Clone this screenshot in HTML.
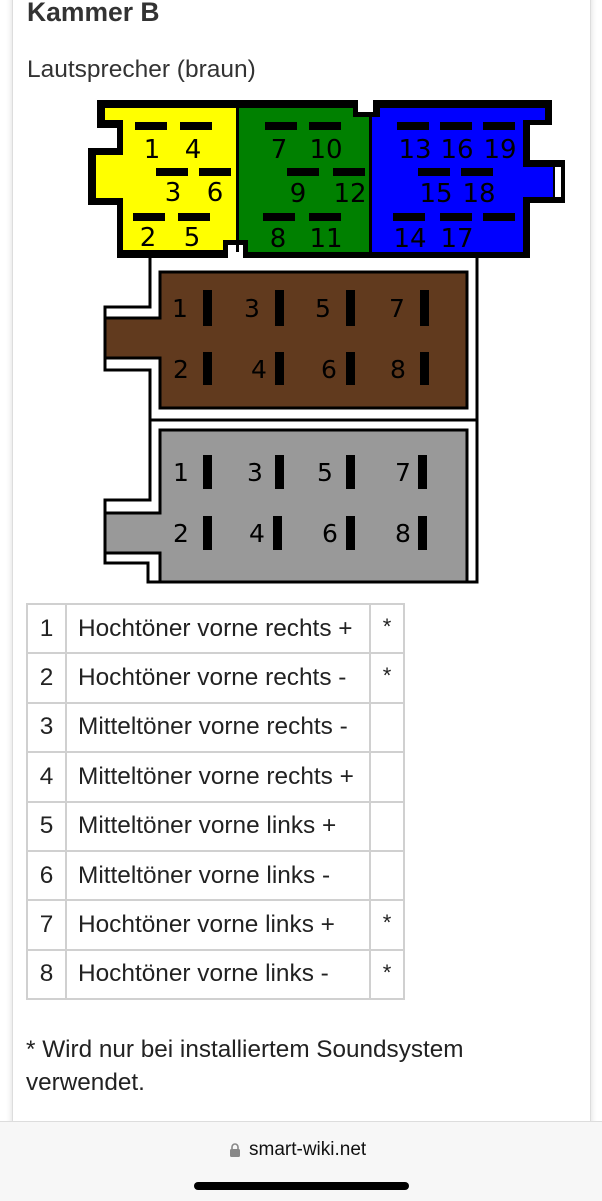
<!DOCTYPE html>
<html><head><meta charset="utf-8"><style>
html,body{margin:0;padding:0;background:#fff;}
body{width:602px;height:1200px;position:relative;overflow:hidden;font-family:"Liberation Sans",Arial,sans-serif;color:#222;}
.card{position:absolute;left:12px;top:-10px;width:577px;height:1140px;border-left:1px solid #ddd;border-right:1px solid #ddd;box-shadow:0 0 6px rgba(0,0,0,.15);background:#fff;}
.t{position:absolute;white-space:nowrap;}
table{position:absolute;left:26px;top:603px;border-collapse:collapse;table-layout:fixed;width:377px;font-size:24.4px;color:#222;}
tr{height:49.4px;}
td{border:2px solid #d0d0d0;padding:0;vertical-align:middle;overflow:hidden;white-space:nowrap;}
td.n{text-align:center;}
td.d{padding-left:11px;}
td.s{text-align:center;vertical-align:top;padding-top:9px;font-size:22px;}
.bar{position:absolute;left:0;top:1121px;width:602px;height:79px;background:#f7f7f7;border-top:1px solid #ddd;}
</style></head><body>
<div class="card"></div>
<div class="t" style="left:27px;top:-3px;font-size:26.5px;font-weight:bold;color:#333;">Kammer B</div>
<div class="t" style="left:27px;top:56px;font-size:24.5px;color:#333;">Lautsprecher (braun)</div>
<svg style="position:absolute;left:0;top:0" width="602" height="600" font-family="DejaVu Sans, sans-serif">
<polygon fill="#000" points="97,100 358,100 358,112 373,112 373,100 552,100 552,125 530,125 530,160 565,160 565,203 530,203 530,258 243,258 243,245 228,245 228,258 117,258 117,205 88,205 88,148 117,148 117,128 97,128"/>
<polygon fill="#ffff00" points="105,108 237,108 237,240 223,240 223,250 123,250 123,198 96,198 96,155 123,155 123,120 105,120"/>
<polygon fill="#008000" points="237,108 353,108 353,117 372,117 372,252 248,252 248,240 237,240"/>
<polygon fill="#0000ff" points="370,117 380,117 380,108 545,108 545,120 523,120 523,167 553,167 553,197 523,197 523,252 370,252"/>
<rect x="555" y="167" width="6" height="30" fill="#fff"/>
<rect x="236" y="108" width="3" height="144" fill="#000"/>
<rect x="369" y="117" width="3" height="135" fill="#000"/>
<g fill="#000">
<rect x="135" y="122" width="32" height="8"/><rect x="180" y="122" width="32" height="8"/>
<rect x="156" y="168" width="32" height="8"/><rect x="199" y="168" width="32" height="8"/>
<rect x="133" y="213" width="32" height="8"/><rect x="178" y="213" width="32" height="8"/>
<rect x="265" y="122" width="32" height="8"/><rect x="309" y="122" width="32" height="8"/>
<rect x="287" y="168" width="32" height="8"/><rect x="333" y="168" width="32" height="8"/>
<rect x="263" y="213" width="32" height="8"/><rect x="309" y="213" width="32" height="8"/>
<rect x="397" y="122" width="32" height="8"/><rect x="440" y="122" width="32" height="8"/><rect x="483" y="122" width="32" height="8"/>
<rect x="418" y="168" width="32" height="8"/><rect x="461" y="168" width="32" height="8"/>
<rect x="393" y="213" width="32" height="8"/><rect x="440" y="213" width="32" height="8"/><rect x="483" y="213" width="32" height="8"/>
</g>
<g font-size="26" text-anchor="middle" fill="#000">
<text x="152" y="158">1</text><text x="193" y="158">4</text>
<text x="173" y="201">3</text><text x="215" y="201">6</text>
<text x="148" y="246">2</text><text x="192" y="246">5</text>
<text x="279" y="158">7</text><text x="326" y="158">10</text>
<text x="298" y="202">9</text><text x="350" y="202">12</text>
<text x="278" y="247">8</text><text x="326" y="247">11</text>
<text x="415" y="158">13</text><text x="457" y="158">16</text><text x="500" y="158">19</text>
<text x="436" y="202">15</text><text x="479" y="202">18</text>
<text x="410" y="247">14</text><text x="457" y="247">17</text>
</g>
<g fill="none" stroke="#000" stroke-width="3">
<polyline points="150,258 150,307 105,307 105,370 150,370 150,500 105,500 105,563 148,563 148,582 477,582 477,258"/>
<line x1="150" y1="420" x2="477" y2="420"/>
<polygon fill="#613a1e" points="160,272 467,272 467,408 160,408 160,358 105,358 105,318 160,318"/>
<polygon fill="#999999" points="160,430 467,430 467,582 160,582 160,553 105,553 105,513 160,513"/>
</g>
<g fill="#000">
<rect x="203" y="290" width="9" height="36"/><rect x="275" y="290" width="9" height="36"/><rect x="346" y="290" width="9" height="36"/><rect x="420" y="290" width="9" height="36"/>
<rect x="203" y="352" width="9" height="33"/><rect x="275" y="352" width="9" height="33"/><rect x="346" y="352" width="9" height="33"/><rect x="420" y="352" width="9" height="33"/>
<rect x="203" y="455" width="9" height="34"/><rect x="275" y="455" width="9" height="34"/><rect x="346" y="455" width="9" height="34"/><rect x="418" y="455" width="9" height="34"/>
<rect x="203" y="516" width="9" height="34"/><rect x="273" y="516" width="9" height="34"/><rect x="346" y="516" width="9" height="34"/><rect x="418" y="516" width="9" height="34"/>
</g>
<g font-size="25" text-anchor="middle" fill="#000">
<text x="180" y="317">1</text><text x="252" y="317">3</text><text x="323" y="317">5</text><text x="397" y="317">7</text>
<text x="181" y="378">2</text><text x="259" y="378">4</text><text x="329" y="378">6</text><text x="398" y="378">8</text>
<text x="181" y="481">1</text><text x="255" y="481">3</text><text x="325" y="481">5</text><text x="403" y="481">7</text>
<text x="181" y="542">2</text><text x="257" y="542">4</text><text x="330" y="542">6</text><text x="403" y="542">8</text>
</g>
</svg>
<table>
<colgroup><col style="width:39px"><col style="width:304px"><col style="width:34px"></colgroup>
<tr><td class="n">1</td><td class="d">Hochtöner vorne rechts +</td><td class="s">*</td></tr>
<tr><td class="n">2</td><td class="d">Hochtöner vorne rechts -</td><td class="s">*</td></tr>
<tr><td class="n">3</td><td class="d">Mitteltöner vorne rechts -</td><td class="s"></td></tr>
<tr><td class="n">4</td><td class="d">Mitteltöner vorne rechts +</td><td class="s"></td></tr>
<tr><td class="n">5</td><td class="d">Mitteltöner vorne links +</td><td class="s"></td></tr>
<tr><td class="n">6</td><td class="d">Mitteltöner vorne links -</td><td class="s"></td></tr>
<tr><td class="n">7</td><td class="d">Hochtöner vorne links +</td><td class="s">*</td></tr>
<tr><td class="n">8</td><td class="d">Hochtöner vorne links -</td><td class="s">*</td></tr>
</table>
<div class="t" style="left:26px;top:1033px;font-size:24.3px;line-height:33px;color:#222;">* Wird nur bei installiertem Soundsystem<br>verwendet.</div>
<div class="bar">
<svg style="position:absolute;left:229px;top:20px" width="12" height="16"><path d="M3,7 V5 A3,3 0 0 1 9,5 V7" fill="none" stroke="#888" stroke-width="1.6"/><rect x="1" y="7" width="10" height="8" rx="1.5" fill="#888"/></svg>
<div class="t" style="left:249px;top:17px;font-size:19px;color:#111;">smart-wiki.net</div>
<div style="position:absolute;left:194px;top:60px;width:215px;height:8px;border-radius:4px;background:#000;"></div>
</div>
</body></html>
